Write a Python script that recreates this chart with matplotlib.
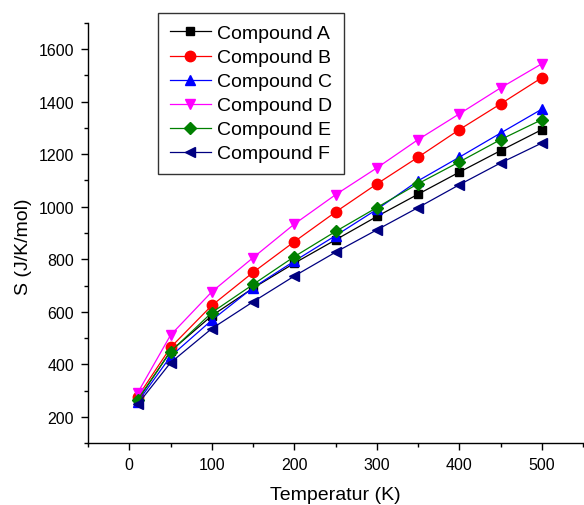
import matplotlib
matplotlib.use("Agg")
import matplotlib.pyplot as plt
from matplotlib.ticker import MultipleLocator

plt.rcParams["font.family"] = ["Liberation Sans", "DejaVu Sans"]

temperature = [10, 50, 100, 150, 200, 250, 300, 350, 400, 450, 500]

compound_a = [262, 450, 585, 690, 785, 874, 963, 1048, 1132, 1214, 1294]
compound_b = [275, 464, 624, 750, 867, 980, 1087, 1189, 1294, 1392, 1492]
compound_c = [255, 430, 568, 692, 793, 890, 990, 1099, 1189, 1281, 1372]
compound_d = [290, 511, 676, 806, 934, 1046, 1148, 1256, 1354, 1453, 1545]
compound_e = [265, 448, 597, 704, 810, 906, 997, 1088, 1171, 1256, 1332]
compound_f = [247, 406, 536, 638, 736, 827, 912, 997, 1084, 1167, 1243]

series = [
    ("Compound A", compound_a, "black", "s"),
    ("Compound B", compound_b, "red", "o"),
    ("Compound C", compound_c, "blue", "^"),
    ("Compound D", compound_d, "magenta", "v"),
    ("Compound E", compound_e, "green", "D"),
    ("Compound F", compound_f, "navy", "<"),
]

fig = plt.figure(figsize=(5.84, 5.06), dpi=100)
ax = fig.add_axes([0.1507, 0.1225, 0.848, 0.8301])

for label, values, color, marker in series:
    size = 6 if marker in ("s", "D") else 7.5
    ax.plot(temperature, values, color=color, marker=marker, markersize=size,
            linewidth=0.9, label=label)

ax.set_xlim(-50, 550)
ax.set_ylim(100, 1700)
ax.xaxis.set_major_locator(MultipleLocator(100))
ax.xaxis.set_minor_locator(MultipleLocator(50))
ax.yaxis.set_major_locator(MultipleLocator(200))
ax.yaxis.set_minor_locator(MultipleLocator(100))
ax.tick_params(which="both", direction="out", width=1.0, labelsize=11.5, pad=5)
ax.tick_params(which="major", length=5)
ax.tick_params(which="minor", length=3)
ax.spines["top"].set_visible(False)
ax.spines["right"].set_visible(False)
ax.spines["left"].set_linewidth(1.0)
ax.spines["bottom"].set_linewidth(1.0)

ax.set_xlabel("Temperatur (K)", fontsize=14, labelpad=10)
ax.set_ylabel("S (J/K/mol)", fontsize=14)
ax.yaxis.set_label_coords(-0.113, 0.469)

leg = ax.legend(loc="upper left", bbox_to_anchor=(158 / 584, 1 - 14 / 506),
                bbox_transform=fig.transFigure, fontsize=14, frameon=True,
                fancybox=False, edgecolor="black", handlelength=2.1,
                handletextpad=0.35, labelspacing=0.33, borderpad=0.6,
                borderaxespad=0)
leg.get_frame().set_linewidth(1.0)

fig.savefig("out.png", dpi=100)
